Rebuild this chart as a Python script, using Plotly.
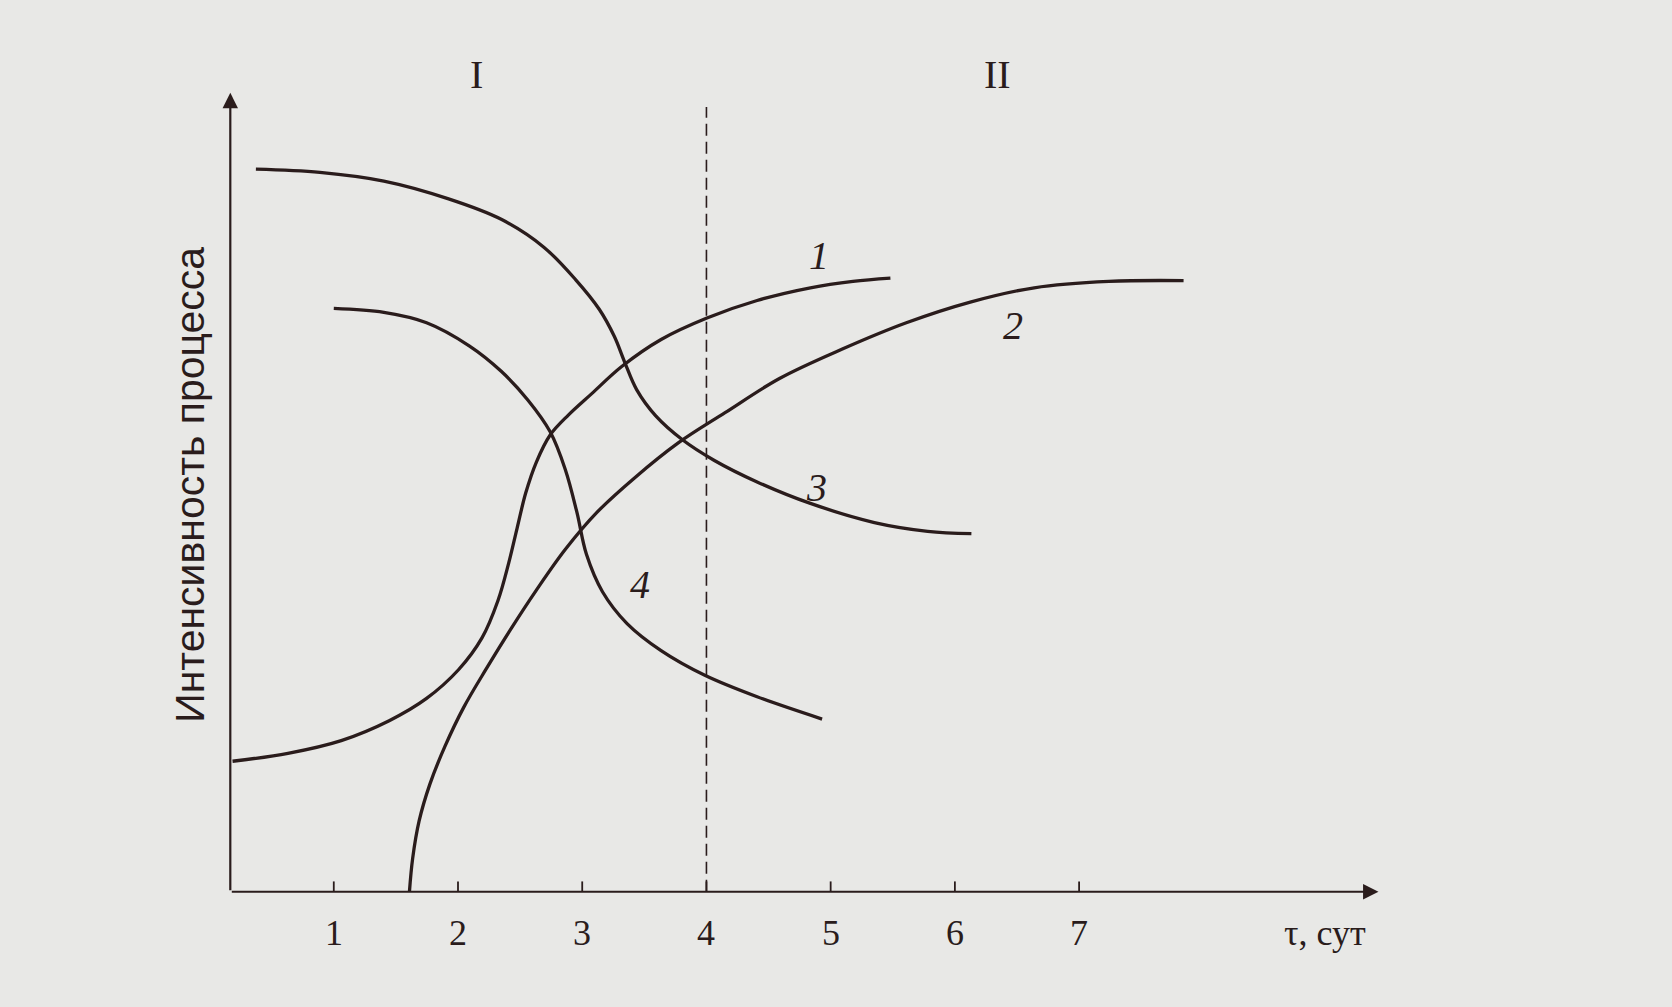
import plotly.graph_objects as go

# time axis, days
days = [1, 2, 3, 4, 5, 6, 7]
day_labels = ["1", "2", "3", "4", "5", "6", "7"]

# curve 1 (S-shaped rise)
t1 = [0.185, 0.631, 1.060, 1.446, 1.747, 2.004, 2.193, 2.322, 2.408, 2.476, 2.545, 2.631, 2.742, 2.888,
      3.077, 3.318, 3.635, 4.004, 4.408, 4.837, 5.180, 5.481]
v1 = [16.4, 17.4, 19.0, 21.5, 24.3, 27.9, 31.9, 36.6, 41.3, 45.7, 50.1, 54.0, 57.4, 59.9,
      62.6, 66.0, 69.4, 72.1, 74.3, 75.9, 76.7, 77.1]

# curve 2 (rises from zero)
t2 = [1.609, 1.635, 1.687, 1.773, 1.893, 2.047, 2.227, 2.425, 2.631, 2.863, 3.120, 3.421, 3.773, 4.150,
      4.588, 5.094, 5.609, 6.124, 6.639, 7.240, 7.841]
v2 = [0.0, 4.2, 8.9, 13.5, 18.2, 23.2, 28.0, 33.0, 37.9, 43.0, 47.7, 52.0, 56.4, 60.2,
      64.5, 68.2, 71.5, 74.1, 75.9, 76.7, 76.8]

# curve 3 (falls from high level)
t3 = [0.373, 0.888, 1.403, 1.918, 2.348, 2.691, 2.948, 3.137, 3.258, 3.343, 3.438, 3.592, 3.807, 4.064,
      4.408, 4.837, 5.352, 5.781, 6.133]
v3 = [90.8, 90.4, 89.3, 87.1, 84.5, 81.0, 76.9, 73.2, 69.8, 66.5, 63.1, 59.8, 56.8, 54.2,
      51.5, 48.8, 46.4, 45.3, 45.0]

# curve 4 (falls from middle level)
t4 = [1.0, 1.403, 1.747, 2.090, 2.348, 2.562, 2.742, 2.863, 2.957, 3.034, 3.163, 3.361, 3.635, 3.987,
      4.408, 4.931]
v4 = [73.3, 72.8, 71.5, 68.6, 65.4, 61.8, 57.8, 53.1, 47.7, 42.4, 37.7, 33.7, 30.3, 27.2,
      24.5, 21.7]

curve_names = ["1", "2", "3", "4"]
label_x = [4.905, 6.468, 4.888, 3.464]
label_y = [79.9, 71.2, 50.8, 38.6]

phase_border = 4
phase_names = ["I", "II"]
phase_x = [2.15, 6.34]

ink = "#2a1c1c"
bg = "#e8e8e6"
serif = "Liberation Serif, Times New Roman, serif"

fig = go.Figure()
for t, v in [(t1, v1), (t2, v2), (t3, v3), (t4, v4)]:
    fig.add_trace(go.Scatter(x=t, y=v, mode="lines", line=dict(color=ink, width=3.3, shape="spline", smoothing=1.0),
                             showlegend=False, hoverinfo="skip"))

# axes with arrows
fig.add_annotation(x=9.41, y=0, ax=0.167, ay=0, xref="x", yref="y", axref="x", ayref="y", text="",
                   showarrow=True, arrowhead=2, arrowsize=1.4, arrowwidth=2.2, arrowcolor=ink)
fig.add_annotation(x=0.167, y=100.4, ax=0.167, ay=0, xref="x", yref="y", axref="x", ayref="y", text="",
                   showarrow=True, arrowhead=2, arrowsize=1.4, arrowwidth=2.2, arrowcolor=ink)

# ticks and tick labels
for d, lab in zip(days, day_labels):
    fig.add_shape(type="line", x0=d, x1=d, y0=0, y1=1.3, line=dict(color=ink, width=1.8))
    fig.add_annotation(x=d, y=-5.2, text=lab, showarrow=False, font=dict(family=serif, size=36, color=ink))

fig.add_annotation(x=8.98, y=-5.2, text="τ, сут", showarrow=False, font=dict(family=serif, size=36, color=ink))

# border between phases
fig.add_shape(type="line", x0=phase_border, x1=phase_border, y0=0, y1=98.6,
              line=dict(color=ink, width=1.6, dash="12px,6px"))
for name, px in zip(phase_names, phase_x):
    fig.add_annotation(x=px, y=102.7, text=name, showarrow=False, font=dict(family=serif, size=40, color=ink))

for name, lx, ly in zip(curve_names, label_x, label_y):
    fig.add_annotation(x=lx, y=ly, text="<i>" + name + "</i>", showarrow=False,
                       font=dict(family=serif, size=40, color=ink))

fig.add_annotation(x=-0.16, y=51.1, text="Интенсивность процесса", textangle=-90, showarrow=False,
                   font=dict(family="Liberation Sans Narrow, Liberation Sans, Arial, sans-serif", size=41, color=ink))

fig.update_xaxes(visible=False, range=[-1.687, 11.773])
fig.update_yaxes(visible=False, range=[-14.48, 112.06])
fig.update_layout(width=1672, height=1007, margin=dict(l=0, r=0, t=0, b=0),
                  paper_bgcolor=bg, plot_bgcolor=bg)
fig.write_html("out.html", config={"displayModeBar": False},
               post_script="document.body.style.margin='0';document.body.style.background='%s';" % bg)
